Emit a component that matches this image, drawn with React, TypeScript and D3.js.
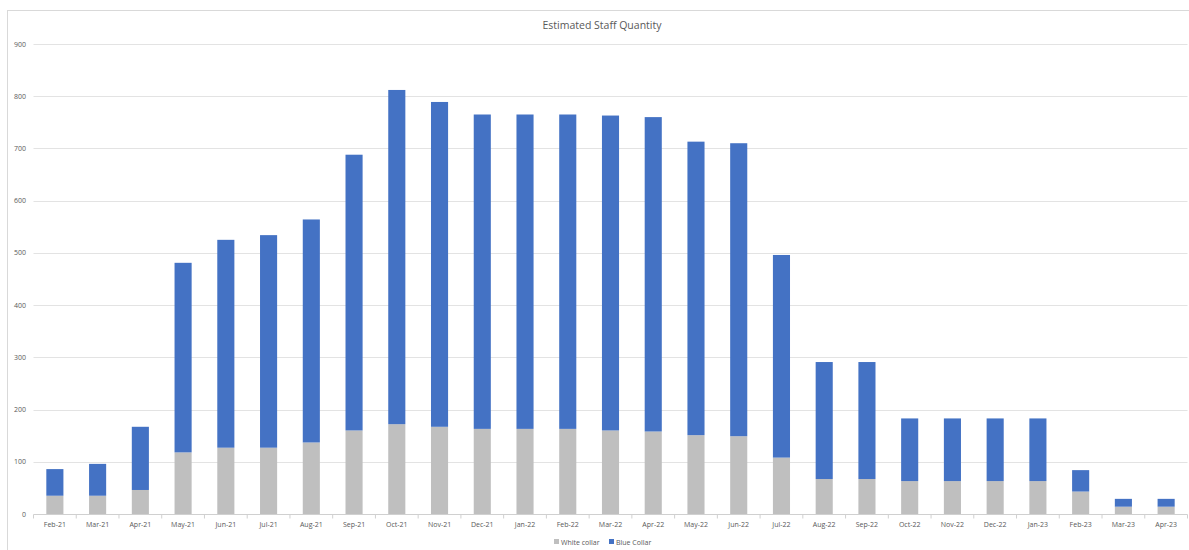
import React from "react";
import * as d3 from "d3";

const categories = ["Feb-21","Mar-21","Apr-21","May-21","Jun-21","Jul-21","Aug-21","Sep-21","Oct-21","Nov-21","Dec-21","Jan-22","Feb-22","Mar-22","Apr-22","May-22","Jun-22","Jul-22","Aug-22","Sep-22","Oct-22","Nov-22","Dec-22","Jan-23","Feb-23","Mar-23","Apr-23"];
const whiteCollar = [35,35,46,118,127,127,137,160,172,167,163,163,163,160,158,151,149,108,67,67,63,63,63,63,43,14,14];
const blueCollar = [51,61,121,363,398,407,427,528,640,622,602,602,602,603,602,562,561,388,224,224,120,120,120,120,41,15,15];
const yTicks = [0,100,200,300,400,500,600,700,800,900];
const seriesNames = ["White collar","Blue Collar"];
const seriesColors = ["#bfbfbf","#4472c4"];

export default function App() {
  const W = 1189, H = 550;
  const x = d3.scaleBand<string>().domain(categories).range([33.5, 1187.5]).paddingInner(0.6).paddingOuter(0.3);
  const y = d3.scaleLinear().domain([0, 900]).range([514, 44]);
  const data = categories.map((c, i) => ({ cat: c, white: whiteCollar[i], blue: blueCollar[i] }));
  const stack = d3.stack<any>().keys(["white", "blue"])(data);
  const step = x.step();
  const font = "'Open Sans', 'Liberation Sans', sans-serif";
  return (
    <svg width={W} height={H} style={{ position: "absolute", left: 0, top: 0 }} fontFamily={font}>
      <rect x={0} y={0} width={W} height={H} fill="#fff" />
      <rect x={7.5} y={10.5} width={1200} height={600} fill="#fff" stroke="#d9d9d9" strokeWidth={1} />
      <text x={602} y={29} textAnchor="middle" fontSize={10.5} fill="#595959">Estimated Staff Quantity</text>
      {yTicks.map(t => (
        <g key={t}>
          {t > 0 && <line x1={33.5} x2={1187.5} y1={Math.round(y(t)) + 0.5} y2={Math.round(y(t)) + 0.5} stroke="#e3e3e3" strokeWidth={1} />}
          <text x={26} y={y(t) + 2.5} textAnchor="end" fontSize={7} fill="#595959">{t}</text>
        </g>
      ))}
      {stack.map((s, si) => (
        <g key={si} fill={seriesColors[si]}>
          {s.map((d: any, i: number) => (
            <rect key={i} x={x(categories[i])} width={x.bandwidth()} y={y(d[1])} height={y(d[0]) - y(d[1])} />
          ))}
        </g>
      ))}
      <line x1={33.5} x2={1187.5} y1={514.5} y2={514.5} stroke="#d0d0d0" />
      {d3.range(categories.length + 1).map(i => (
        <line key={i} x1={33.5 + i * step} x2={33.5 + i * step} y1={514.5} y2={518.5} stroke="#d0d0d0" />
      ))}
      {categories.map(c => (
        <text key={c} x={(x(c) as number) + x.bandwidth() / 2} y={527} textAnchor="middle" fontSize={7} fill="#595959">{c}</text>
      ))}
      <g>
        <rect x={554} y={539} width={5} height={5} fill={seriesColors[0]} />
        <text x={561} y={544.5} fontSize={7} fill="#595959">{seriesNames[0]}</text>
        <rect x={609} y={539} width={5} height={5} fill={seriesColors[1]} />
        <text x={616} y={544.5} fontSize={7} fill="#595959">{seriesNames[1]}</text>
      </g>
    </svg>
  );
}
